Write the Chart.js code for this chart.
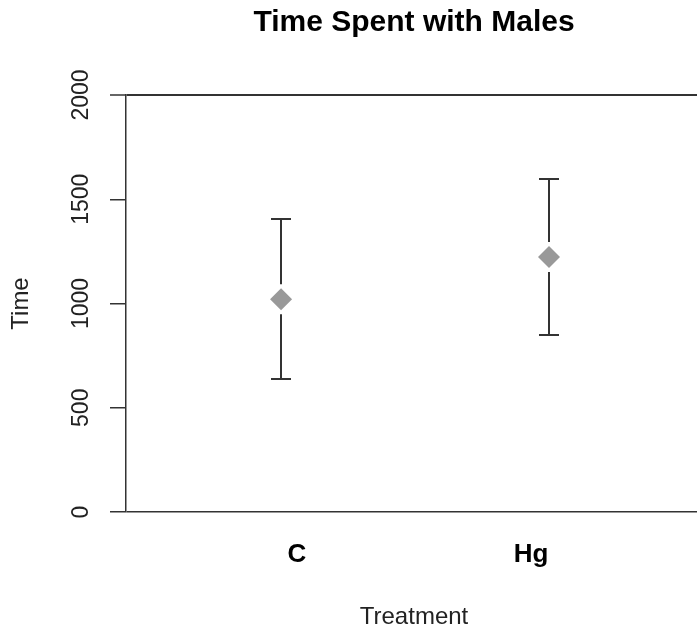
<!DOCTYPE html>
<html>
<head>
<meta charset="utf-8">
<script src="https://cdn.jsdelivr.net/npm/chart.js@4/dist/chart.umd.min.js"></script>
<style>
  html, body { margin: 0; padding: 0; background: #fff; overflow: hidden; }
  #wrap { position: relative; width: 828px; height: 635px; }
</style>
</head>
<body>
<div id="wrap"><canvas id="c"></canvas></div>
<script>
// ---- data ----
const titleText = 'Time Spent with Males';
const categories = ['C', 'Hg'];
const means = [1020, 1223];
const upper = [1405, 1597];
const lower = [638, 849];
const yTicks = [0, 500, 1000, 1500, 2000];

// ---- layout config (not data) ----
const pointShift = [-0.068, 0.077];
const FONT = '"Liberation Sans", Arial, sans-serif';

const errorBars = {
  id: 'errorBars',
  beforeDatasetsDraw(chart) {
    const ctx = chart.ctx;
    const meta = chart.getDatasetMeta(0);
    const ys = chart.scales.y;
    ctx.save();
    ctx.strokeStyle = '#333';
    ctx.lineWidth = 2;
    meta.data.forEach((pt, i) => {
      const x = Math.round(pt.x);
      const yc = pt.y;
      const yt = Math.round(ys.getPixelForValue(upper[i]));
      const yb = Math.round(ys.getPixelForValue(lower[i]));
      const gap = 15;
      ctx.beginPath();
      ctx.moveTo(x, yt); ctx.lineTo(x, yc - gap);
      ctx.moveTo(x, yc + gap); ctx.lineTo(x, yb);
      ctx.moveTo(x - 10, yt); ctx.lineTo(x + 10, yt);
      ctx.moveTo(x - 10, yb); ctx.lineTo(x + 10, yb);
      ctx.stroke();
    });
    ctx.restore();
  }
};

const extraText = {
  id: 'extraText',
  afterDraw(chart) {
    const ctx = chart.ctx;
    const ys = chart.scales.y;
    const area = chart.chartArea;
    ctx.save();
    // plot title, centred over the plotting region
    ctx.font = 'bold 30px ' + FONT;
    ctx.fillStyle = '#000';
    ctx.textAlign = 'center';
    ctx.textBaseline = 'middle';
    ctx.fillText(titleText, (area.left + area.right) / 2, 22.5);
    // rotated y tick labels
    ctx.font = '23px ' + FONT;
    ctx.fillStyle = '#222';
    ys.ticks.forEach(t => {
      const y = ys.getPixelForValue(t.value);
      ctx.save();
      ctx.translate(82, y);
      ctx.rotate(-Math.PI / 2);
      ctx.fillText(String(t.value), 0, 0);
      ctx.restore();
    });
    ctx.restore();
  }
};

new Chart(document.getElementById('c'), {
  type: 'scatter',
  data: {
    datasets: [{
      label: 'Time',
      data: categories.map((c, i) => ({ x: i + 1 + pointShift[i], y: means[i] })),
      pointStyle: 'rectRot',
      pointRadius: 11,
      pointHoverRadius: 11,
      backgroundColor: '#999999',
      borderWidth: 0
    }]
  },
  plugins: [errorBars, extraText],
  options: {
    responsive: true,
    maintainAspectRatio: false,
    animation: false,
    layout: { padding: { left: 0, top: 95, bottom: 0, right: 126 } },
    plugins: {
      legend: { display: false },
      tooltip: { enabled: false },
      title: { display: false }
    },
    scales: {
      x: {
        type: 'linear',
        min: 0.2692,
        max: 2.7308,
        afterBuildTicks(scale) { scale.ticks = categories.map((c, i) => ({ value: i + 1 })); },
        afterFit(scale) { scale.height = 123; scale.paddingLeft = 0; scale.paddingRight = 0; },
        grid: { display: false, drawTicks: false },
        border: { display: false },
        ticks: {
          color: '#000',
          padding: 27,
          maxRotation: 0,
          autoSkip: false,
          font: { family: FONT, size: 26, weight: 'bold', lineHeight: 1.2 },
          callback: (v) => categories[Math.round(v) - 1]
        },
        title: {
          display: true,
          text: 'Treatment',
          color: '#222',
          font: { family: FONT, size: 24, lineHeight: 1.2 },
          padding: { top: 0, bottom: 3.6 }
        }
      },
      y: {
        min: 0,
        max: 2000,
        afterBuildTicks(scale) { scale.ticks = yTicks.map(v => ({ value: v })); },
        afterFit(scale) { scale.width = 126; scale.paddingTop = 0; scale.paddingBottom = 0; },
        grid: {
          drawOnChartArea: true,
          drawTicks: true,
          tickLength: 16,
          tickColor: '#333',
          tickWidth: 1.5,
          color: (ctx) => (ctx.tick && (ctx.tick.value === 0 || ctx.tick.value === 2000)) ? '#333' : 'rgba(0,0,0,0)',
          lineWidth: (ctx) => (ctx.tick && ctx.tick.value === 2000) ? 2 : 1.5
        },
        border: { display: true, color: '#333', width: 1.5 },
        ticks: { display: false },
        title: {
          display: true,
          text: 'Time',
          color: '#222',
          font: { family: FONT, size: 24, lineHeight: 1.2 },
          padding: { top: 7, bottom: 0 }
        }
      }
    }
  }
});
</script>
</body>
</html>
